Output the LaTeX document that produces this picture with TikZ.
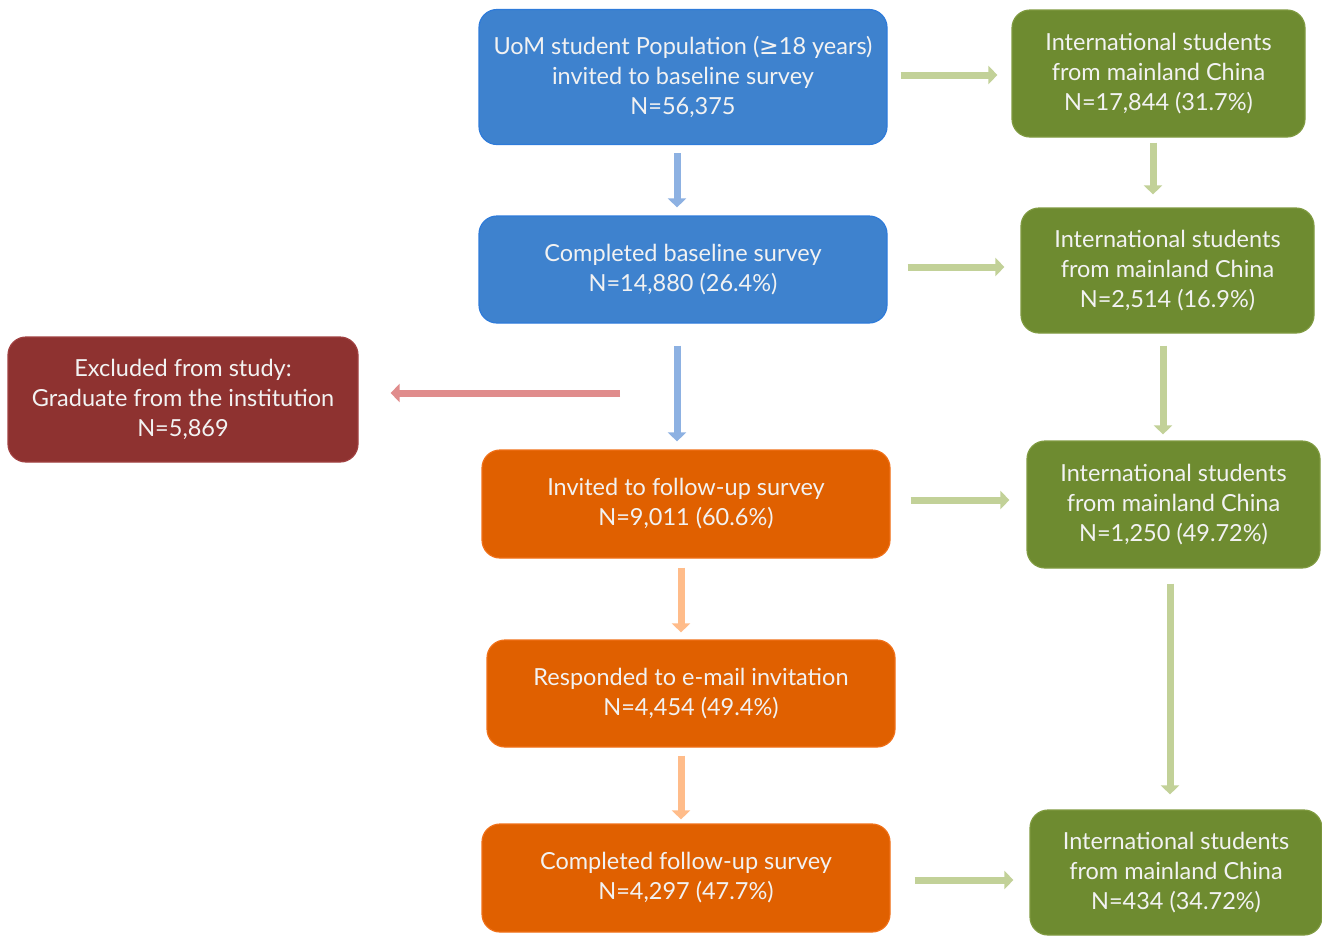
\documentclass[tikz,border=0pt]{standalone}
\usepackage{fontspec}
\setmainfont{Lato}
\newfontfamily\symfont{DejaVu Sans}
\usetikzlibrary{arrows.meta}
\definecolor{BoxBlue}{HTML}{3E82CE}
\definecolor{EdgeBlue}{HTML}{2E7BDA}
\definecolor{BoxOrange}{HTML}{E06000}
\definecolor{EdgeOrange}{HTML}{F07018}
\definecolor{BoxGreen}{HTML}{6E8B30}
\definecolor{EdgeGreen}{HTML}{7F9A40}
\definecolor{BoxRed}{HTML}{8E3230}
\definecolor{EdgeRed}{HTML}{A04040}
\definecolor{ArrBlue}{HTML}{8DB1E2}
\definecolor{ArrOrange}{HTML}{FFBC8A}
\definecolor{ArrGreen}{HTML}{C2D198}
\definecolor{ArrRed}{HTML}{E08C8C}

\begin{document}
\begin{tikzpicture}[x=1pt,y=-1pt,
  box/.style={rounded corners=18pt,text=white!95!black,align=center,inner sep=0pt,
    line width=1.2pt,font=\fontsize{23.5}{30}\selectfont},
  bluebox/.style={box,fill=BoxBlue,draw=EdgeBlue,minimum width=408pt},
  orangebox/.style={box,fill=BoxOrange,draw=EdgeOrange,minimum width=408pt,minimum height=108pt},
  greenbox/.style={box,fill=BoxGreen,draw=EdgeGreen,minimum width=293pt},
  redbox/.style={box,fill=BoxRed,draw=EdgeRed,minimum width=350pt,minimum height=125pt},
  flow/.style={line width=7pt,-{Triangle[length=9pt,width=18pt]}}]
\useasboundingbox (0,0) rectangle (1322,935);

\node[bluebox,minimum height=135pt] (pop) at (683,77) {UoM student Population ({\symfont ≥}18 years)\\invited to baseline survey\\N=56,375};
\node[bluebox,minimum height=107pt] (base) at (683,269.5) {Completed baseline survey\\N=14,880 (26.4\%)};
\node[redbox] (excl) at (183,399.5) {Excluded from study:\\Graduate from the institution\\N=5,869};
\node[orangebox] (invit) at (686,504) {Invited to follow-up survey\\N=9,011 (60.6\%)};
\node[orangebox,minimum height=107pt] (resp) at (691,693.5) {Responded to e-mail invitation\\N=4,454 (49.4\%)};
\node[orangebox] (follow) at (686,878) {Completed follow-up survey\\N=4,297 (47.7\%)};

\node[greenbox,minimum height=127pt] (chpop) at (1158.5,73.5) {International students\\from mainland China\\N=17,844 (31.7\%)};
\node[greenbox,minimum height=125pt] (chbase) at (1167.5,270.5) {International students\\from mainland China\\N=2,514 (16.9\%)};
\node[greenbox,minimum height=127pt] (chinvit) at (1173.5,504.5) {International students\\from mainland China\\N=1,250 (49.72\%)};
\node[greenbox,minimum height=125pt,minimum width=292pt] (chfollow) at (1176,872.5) {International students\\from mainland China\\N=434 (34.72\%)};

\coordinate (split) at (620,393);

\draw[flow,ArrBlue,shorten <=8pt,shorten >=8pt] ([xshift=-6pt]pop.south) -- ([xshift=-6pt]base.north);
\draw[flow,ArrBlue,shorten <=22pt,shorten >=8pt] ([xshift=-6pt]base.south) -- ([xshift=-6pt]base.south |- invit.north);
\draw[flow,ArrRed,shorten >=32pt] (split) -- (excl.east |- split);
\draw[flow,ArrOrange,shorten <=9pt,shorten >=7pt] ([xshift=-5pt]invit.south) -- ([xshift=-5pt]invit.south |- resp.north);
\draw[flow,ArrOrange,shorten <=8pt,shorten >=4pt] ([xshift=-10pt]resp.south) -- ([xshift=-10pt]resp.south |- follow.north);

\draw[flow,ArrGreen,shorten <=13pt,shorten >=14pt] ([yshift=2pt]pop.east) -- ([yshift=2pt]pop.east -| chpop.west);
\draw[flow,ArrGreen,shorten <=20pt,shorten >=16pt] ([yshift=2.5pt]base.east) -- ([yshift=2.5pt]base.east -| chbase.west);
\draw[flow,ArrGreen,shorten <=20pt,shorten >=17pt] ([yshift=4pt]invit.east) -- ([yshift=4pt]invit.east -| chinvit.west);
\draw[flow,ArrGreen,shorten <=24pt,shorten >=16pt] ([yshift=-2pt]follow.east) -- ([yshift=-2pt]follow.east -| chfollow.west);

\draw[flow,ArrGreen,shorten <=5pt,shorten >=13pt] ([xshift=-5.5pt]chpop.south) -- ([xshift=-5.5pt]chpop.south |- chbase.north);
\draw[flow,ArrGreen,shorten <=12pt,shorten >=6pt] ([xshift=-4.5pt]chbase.south) -- ([xshift=-4.5pt]chbase.south |- chinvit.north);
\draw[flow,ArrGreen,shorten <=15pt,shorten >=15pt] ([xshift=-3.5pt]chinvit.south) -- ([xshift=-3.5pt]chinvit.south |- chfollow.north);
\end{tikzpicture}
\end{document}
